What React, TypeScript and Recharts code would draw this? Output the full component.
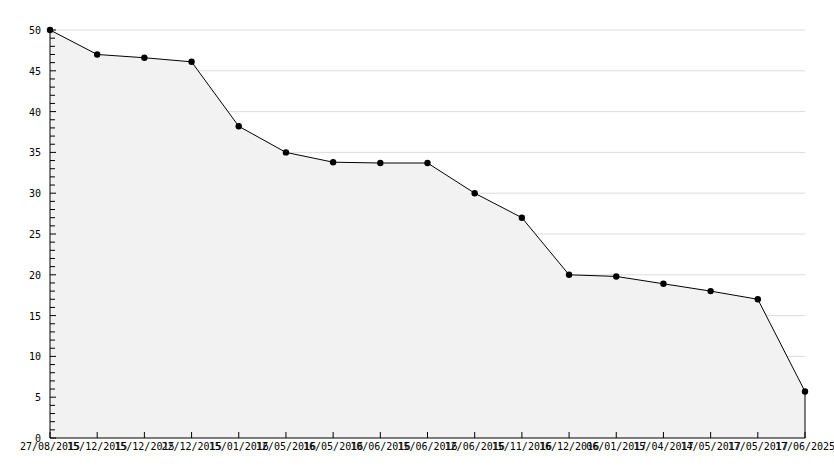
import { Area, CartesianGrid, ComposedChart, ReferenceLine, XAxis, YAxis } from 'recharts'

// dates along the x axis (they overlap in the original too)
const dates = [
  '27/08/2015', '15/12/2015', '15/12/2015', '22/12/2015', '15/01/2016', '12/05/2016',
  '16/05/2016', '10/06/2016', '15/06/2016', '12/06/2016', '15/11/2016', '16/12/2016',
  '06/01/2017', '15/04/2017', '14/05/2017', '17/05/2017', '17/06/2025',
]
const values = [50, 47, 46.6, 46.1, 38.2, 35, 33.8, 33.7, 33.7, 30, 27, 20, 19.8, 18.9, 18, 17, 5.7]
const yTicks = Array.from({ length: 51 }, (_, i) => i)
const gridValues = [5, 10, 15, 20, 25, 30, 35, 40, 45, 50]

const data = dates.map((d, i) => ({ id: i, date: d, value: values[i] }))

const FONT = 'DejaVu Sans Mono'

function YTick(props: any) {
  const { x, y, payload } = props
  const v = payload.value
  const major = v % 5 === 0
  return (
    <g>
      <line x1={x} x2={x + (major ? 6 : 5)} y1={y} y2={y} stroke="#000" />
      {major && (
        <text x={x - 9} y={y} dy={4} textAnchor="end" fontFamily={FONT} fontSize={10} fill="#000">
          {v}
        </text>
      )}
    </g>
  )
}

function XTick(props: any) {
  const { x, y, payload } = props
  return (
    <g>
      <line x1={x} x2={x} y1={y} y2={y - 6} stroke="#000" />
      <text x={x} y={y + 12} textAnchor="middle" fontFamily={FONT} fontSize={10} fill="#000">
        {dates[payload.value]}
      </text>
    </g>
  )
}

function Dot(props: any) {
  const { cx, cy } = props
  if (cx == null || cy == null) return null
  return <circle cx={cx} cy={cy} r={3.2} fill="#000" />
}

export default function App() {
  return (
    <div style={{ position: 'absolute', left: 0, top: 0, width: 834, height: 468, background: '#fff' }}>
      <ComposedChart width={834} height={468} data={data} margin={{ top: 30, right: 29, bottom: 0, left: 0 }}>
        <CartesianGrid horizontal vertical={false} stroke="#dcdcdc" horizontalValues={gridValues} />
        <XAxis
          dataKey="id"
          type="number"
          domain={[0, dates.length - 1]}
          ticks={data.map((d) => d.id)}
          interval={0}
          height={30}
          tickSize={0}
          tickMargin={0}
          tickLine={false}
          stroke="#000"
          tick={<XTick />}
        />
        <YAxis
          domain={[0, 50]}
          ticks={yTicks}
          interval={0}
          width={50}
          tickSize={0}
          tickMargin={0}
          tickLine={false}
          stroke="#000"
          tick={<YTick />}
        />
        <Area
          type="linear"
          dataKey="value"
          stroke="#000"
          strokeWidth={1}
          fill="#f2f2f2"
          fillOpacity={1}
          dot={<Dot />}
          activeDot={false}
          isAnimationActive={false}
        />
        <ReferenceLine
          segment={[
            { x: dates.length - 1, y: 0 },
            { x: dates.length - 1, y: values[values.length - 1] },
          ]}
          stroke="#000"
        />
      </ComposedChart>
    </div>
  )
}
